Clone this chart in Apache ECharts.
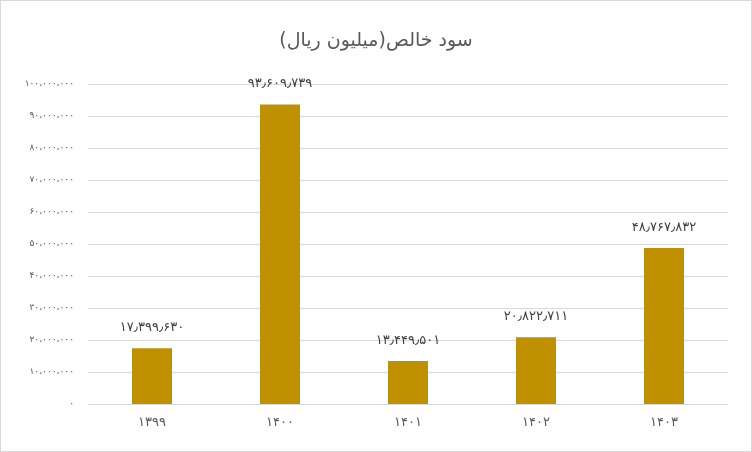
<!DOCTYPE html>
<html><head><meta charset="utf-8">
<script src="https://cdn.jsdelivr.net/npm/echarts@6/dist/echarts.min.js"></script>
<style>html,body{margin:0;padding:0;background:#fff}#c{width:750px;height:450px;border:1px solid #D9D9D9}</style>
</head><body><div id="c"></div>
<script>
const categories = ['۱۳۹۹','۱۴۰۰','۱۴۰۱','۱۴۰۲','۱۴۰۳'];
const netProfit = [17399630, 93609739, 13449501, 20822711, 48767832];
const title = 'سود خالص(میلیون ریال)';

function fa(n, sep){
  const s = Math.round(n).toString().replace(/\B(?=(\d{3})+(?!\d))/g, sep);
  return s.replace(/\d/g,d=>'۰۱۲۳۴۵۶۷۸۹'[d]);
}
const chart = echarts.init(document.getElementById('c'));
chart.setOption({
  animation:false,
  textStyle:{fontFamily:'"DejaVu Sans", sans-serif'},
  title:{text:title,left:'center',top:26,textStyle:{color:'#595959',fontSize:19,fontWeight:'normal'}},
  grid:{left:87,right:23,top:83,bottom:47},
  xAxis:{type:'category',data:categories,
    axisLine:{lineStyle:{color:'#D9D9D9'}},axisTick:{show:false},
    axisLabel:{color:'#595959',fontSize:13,margin:12}},
  yAxis:{type:'value',min:0,max:100000000,interval:10000000,
    axisLabel:{color:'#595959',fontSize:9,margin:14,formatter:v=>fa(v,'،')},
    splitLine:{lineStyle:{color:'#D9D9D9',width:1}},axisLine:{show:false},axisTick:{show:false}},
  series:[{type:'bar',data:netProfit,barWidth:40,itemStyle:{color:'#BF9000'},
    label:{show:true,position:'top',distance:14,color:'#404040',fontSize:13,formatter:p=>fa(p.value,'٫')}}]
});
</script></body></html>
